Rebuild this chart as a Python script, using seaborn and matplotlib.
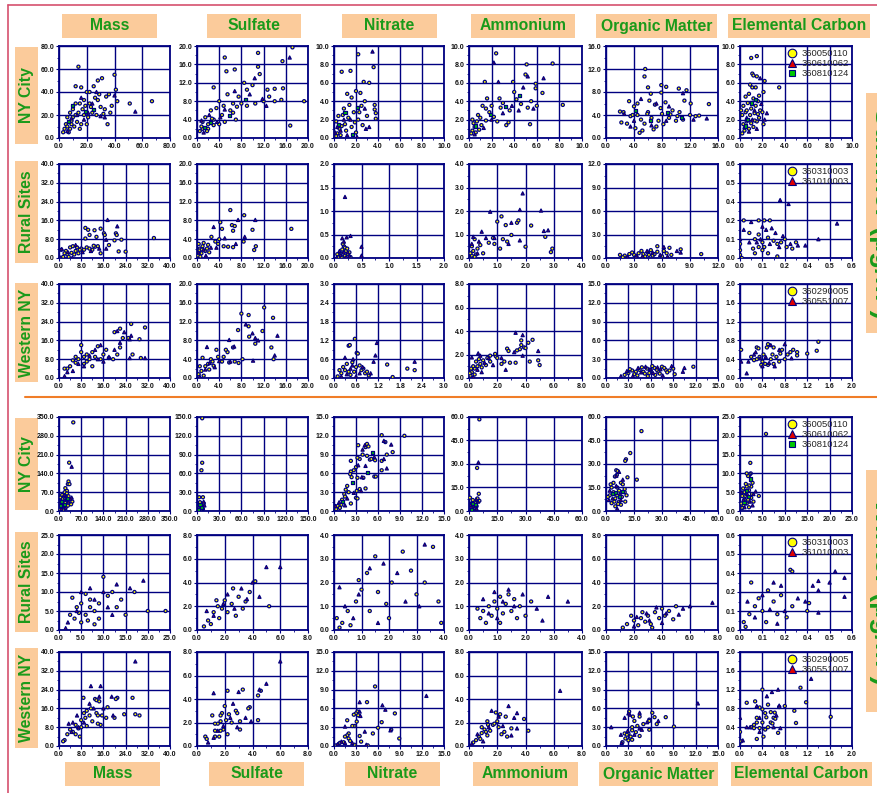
import numpy as np
import pandas as pd
import seaborn as sns
import matplotlib
matplotlib.use("Agg")
import matplotlib.pyplot as plt
from matplotlib.patches import Rectangle
from matplotlib.lines import Line2D
from matplotlib.ticker import FormatStrFormatter, AutoMinorLocator

# ---- labels ----
species = ["Mass", "Sulfate", "Nitrate", "Ammonium", "Organic Matter", "Elemental Carbon"]
regions = ["NY City", "Rural Sites", "Western NY"]
site_ids = {
    "NY City": ["360050110", "360610062", "360810124"],
    "Rural Sites": ["360310003", "361010003"],
    "Western NY": ["360290005", "360551007"],
}

# ---- summer, NY City (o = first site, t = second site, s = third site) ----
sum_ny_mass_o = [(14,62),(67,32),(51,30),(42,32),(40,55),(41,42),(31,52),(28,50),(25,45),(35,12),(36,38),(38,28),
                 (12,45),(16,44),(20,40),(22,40),(18,33),(15,30),(10,25),(8,22),(6,18),(5,12),(4,8),(7,5),(9,15),
                 (12,20),(14,22),(17,25),(19,28),(22,30),(24,22),(27,20),(30,27),(33,25),(34,36),(26,35),(21,18),
                 (11,10),(13,14),(16,12),(18,20),(9,12),(6,10),(3,5),(28,33),(32,21),(37,22),(29,38),(23,27),(12,30),
                 (10,18),(8,8),(20,12),(15,8)]
sum_ny_mass_t = [(55,23),(40,37),(13,20),(9,17),(30,19),(18,16),(24,30),(6,6),(27,40),(16,35),(21,22),(33,18)]
sum_ny_mass_s = [(10,28),(19,23),(25,25),(7,14)]
sum_ny_sulf_o = [(17.2,19.7),(15.4,16.7),(11,18.5),(5,17.5),(5.3,14.5),(6.8,14.9),(11,15.5),(11.3,13.9),(16.8,2.7),
                 (19.3,8),(12.7,10.5),(14,10.7),(15.5,10.8),(14,8),(15.2,8.3),(10,11.5),(8.5,12),(9,10.5),(3,11),(4,8),
                 (5.5,9.5),(6.5,7.5),(7.5,9),(8,7.5),(9,7),(10.5,7.5),(12,8),(13,9),(7,4),(3,4),(2,3),(1,2),(0.5,1.5),
                 (1.5,4.5),(2.5,6),(3.5,6.5),(4.5,5),(5,3.5),(6,6),(2,2),(1,3.5),(0.8,2.5),(3,2.8),(4,3),(6.5,5.5),
                 (1.8,1.5),(2.7,4.2),(4.8,7),(7.2,6.8)]
sum_ny_sulf_t = [(16.7,17.5),(10.4,13),(12.5,7),(11.8,8.5),(6.8,10.2),(5,6.2),(2.2,5),(1.2,1.2),(3.6,3.5),(9.5,9.5),
                 (4.2,4.5),(0.8,3.8)]
sum_ny_sulf_s = [(2.5,3.3),(5.8,4.8),(8.8,8.3),(1.4,2.2)]
sum_ny_nitr_o = [(0.7,7.2),(1.5,7.3),(2.2,9.1),(3.6,7.7),(2.7,6.1),(3.2,6.0),(2.0,5.1),(2.4,4.9),(1.2,4.8),(1.6,4.4),
                 (2.8,4.0),(3.7,3.6),(3.7,3.1),(3.8,2.7),(3.8,2.1),(2.5,3.5),(3.0,2.4),(2.2,2.0),(1.8,2.8),(1.3,2.2),
                 (1.0,1.5),(0.8,2.5),(0.5,1.0),(0.3,0.5),(0.2,1.8),(0.6,0.3),(1.1,0.8),(1.6,1.2),(2.0,0.6),(0.4,2.4),
                 (0.9,3.2),(1.4,3.6),(2.3,2.8),(0.2,0.2),(0.7,1.3),(1.9,1.7),(2.6,1.4)]
sum_ny_nitr_t = [(3.5,9.4),(3.2,1.2),(2.9,1.0),(0.3,1.2),(0.6,0.8),(1.2,0.3),(2.1,0.1),(1.5,2.0),(0.9,2.0),(2.8,3.2),
                 (0.1,0.6)]
sum_ny_nitr_s = [(1.0,2.8),(0.4,1.5),(2.1,3.3),(1.7,0.4)]
sum_ny_ammo_o = [(2.4,9.2),(5.1,8.0),(7.4,8.1),(5.0,6.9),(1.4,6.1),(3.9,6.1),(5.9,5.9),(5.9,5.4),(6.5,4.9),(8.3,3.6),
                 (5.4,1.5),(3.3,1.4),(3.5,1.7),(2.5,1.8),(4.0,5.0),(4.2,4.2),(5.5,4.0),(6.0,3.5),(3.0,3.8),(2.8,3.3),
                 (2.0,3.5),(1.5,3.2),(1.2,3.5),(1.8,2.8),(1.0,2.2),(0.7,1.8),(0.5,1.2),(0.3,0.8),(0.2,0.5),(0.8,2.5),
                 (1.5,1.9),(2.2,2.3),(0.4,1.6),(0.6,0.6),(1.1,1.4),(3.6,3.0),(4.6,3.7),(5.2,3.3),(2.7,4.3),(0.3,2.0),
                 (0.9,0.9),(1.6,4.3)]
sum_ny_ammo_t = [(2.2,8.2),(5.2,6.7),(6.6,6.5),(2.6,6.1),(4.8,5.5),(3.0,2.7),(4.4,3.0),(1.3,1.1),(0.5,0.4),(2.0,2.0),
                 (5.7,3.2),(3.8,3.5)]
sum_ny_ammo_s = [(1.9,2.6),(0.6,1.3),(3.2,3.4),(4.5,4.6)]
sum_ny_om_o = [(5.6,12.0),(5.5,10.7),(6.0,8.8),(7.9,9.2),(8.6,8.9),(10.4,8.6),(11.5,8.3),(14.7,5.9),(12.1,6.0),(7.9,7.9),
               (6.4,7.7),(3.3,6.4),(2.0,4.6),(2.5,4.5),(3.5,3.8),(4.0,5.5),(4.5,4.0),(5.0,3.2),(5.5,2.5),(6.0,4.5),
               (6.5,3.5),(7.0,5.8),(7.5,3.0),(8.0,4.2),(8.5,6.2),(9.0,3.5),(9.5,4.8),(10.0,3.0),(10.5,4.5),(11.0,3.2),
               (12.0,4.0),(12.8,3.8),(13.3,3.9),(4.2,1.7),(4.8,0.9),(5.2,1.3),(6.8,1.5),(7.2,2.0),(3.0,2.5),(2.2,2.7),
               (9.2,4.1),(8.2,2.4),(6.2,6.5),(11.2,6.5),(4.5,6.0),(7.8,5.2),(3.8,4.0),(5.9,4.2),(10.2,3.8)]
sum_ny_om_t = [(14.4,3.4),(5.0,6.8),(7.2,6.0),(9.0,5.5),(11.0,7.8),(3.5,2.0),(6.5,2.2),(8.6,3.0),(12.5,3.2),(4.0,3.0),
               (2.6,4.2)]
sum_ny_om_s = [(6.3,3.0),(8.8,4.5),(4.2,4.8),(10.8,3.5)]
sum_ny_ec_o = [(1.0,8.7),(1.5,8.9),(1.1,7.0),(1.2,6.8),(1.5,6.7),(2.2,6.2),(3.5,5.5),(2.1,5.0),(1.1,5.5),(1.4,5.5),
               (2.1,1.5),(0.5,4.5),(0.8,4.8),(1.2,4.3),(1.6,4.0),(0.3,3.5),(0.7,3.8),(1.0,3.2),(1.4,3.5),(1.8,3.0),
               (0.2,2.5),(0.5,2.8),(0.9,2.5),(1.3,2.7),(1.7,2.2),(0.3,1.5),(0.6,1.8),(1.0,1.6),(1.5,1.8),(0.4,0.8),
               (0.8,1.0),(1.2,1.2),(0.2,0.5),(2.0,2.8),(1.6,2.6),(0.9,5.8),(1.7,4.6),(0.6,3.0),(1.3,1.9),(0.1,3.0)]
sum_ny_ec_t = [(1.8,6.5),(2.4,2.7),(1.9,3.7),(0.6,2.2),(1.1,2.0),(1.5,1.0),(0.4,1.2),(2.2,2.0),(0.8,0.7),(1.3,3.0)]
sum_ny_ec_s = [(0.7,2.0),(1.4,4.2),(1.0,3.8),(0.5,1.3)]

# ---- summer, Rural Sites ----
sum_ru_mass_o = [(9.5,12.8),(10.5,12.0),(12.8,11.8),(15,12.5),(20.5,10.5),(20.8,9.8),(16.2,10.5),(16.5,9.8),(13.5,9.0),
                 (11,9.8),(9.5,8.3),(22.5,7.8),(20,7.5),(18,5.5),(15,2.0),(21.5,2.8),(24,2.7),(34.2,8.5),(0.8,3.5),
                 (1.5,0.5),(2.5,3.0),(3.0,1.5),(4.0,4.5),(4.5,2.2),(5.0,5.0),(6.0,3.0),(6.5,4.5),(7.0,2.0),(8.0,4.0),
                 (9.0,3.5),(10.0,4.5),(11.0,4.0),(12.0,3.5),(13.0,4.8),(14.0,5.0),(3.5,0.5),(5.5,1.5),(7.5,3.5),
                 (12.5,5.2),(2.0,2.0)]
sum_ru_mass_t = [(17.5,16.2),(21,13.5),(17,7.8),(17,4.0),(1.0,3.8),(3.2,2.5),(6.0,5.5),(8.5,2.5),(11.5,3.0),(4.8,0.2),
                 (14.5,4.0),(0.5,0.2)]
sum_ru_sulf_o = [(6,10.2),(8.5,9.1),(4.2,7.6),(6.3,7.0),(6.8,6.8),(6.5,5.8),(4.5,6.2),(10,6.0),(17,6.2),(8.4,3.5),
                 (10.3,1.7),(10.6,2.5),(6.5,2.3),(5.6,2.4),(2.6,4.5),(3.3,3.5),(4.0,4.0),(0.3,3.0),(0.5,2.0),(0.8,1.0),
                 (1.0,2.5),(1.5,1.5),(2.0,2.8),(0.2,0.5),(0.6,0.3),(1.2,3.2),(2.2,1.2),(0.4,1.6),(1.8,2.0),(3.8,3.0),
                 (4.8,2.5),(0.9,1.8)]
sum_ru_sulf_t = [(7.4,8.1),(10.5,8.1),(3.0,6.6),(8.6,4.5),(5.0,4.2),(3.5,2.2),(2.5,2.2),(1.2,1.8),(0.3,1.2),(7.0,3.0),
                 (1.6,0.5)]
sum_ru_nitr_o = [(0.18,0.25),(0.2,0.22),(0.15,0.18),(0.22,0.15),(0.12,0.1),(0.25,0.08),(0.1,0.05),(0.08,0.02),(0.2,0.05),
                 (0.28,0.12),(0.16,0.3),(0.06,0.08),(0.3,0.02),(0.14,0.02),(0.24,0.2)]
sum_ru_nitr_t = [(0.2,1.3),(0.15,0.42),(0.23,0.44),(0.3,0.47),(0.5,0.24),(0.5,0.05),(0.18,0.35),(0.1,0.15),(0.25,0.12),
                 (0.12,0.06),(0.22,0.02),(0.05,0.01),(0.28,0.05),(0.17,0.12)]
sum_ru_ammo_o = [(1.0,1.55),(1.15,1.77),(1.3,1.4),(1.7,1.5),(1.75,1.6),(2.2,1.38),(2.7,0.9),(2.0,0.48),(1.5,0.98),
                 (2.95,0.4),(2.9,0.25),(1.2,0.8),(1.35,0.7),(0.9,0.6),(0.7,0.65),(0.1,0.5),(0.15,0.3),(0.2,0.8),
                 (0.1,0.1),(0.3,0.4),(0.25,0.15),(0.05,0.2),(0.4,0.55),(1.1,0.4),(0.85,0.85),(0.5,0.2),(0.2,0.05)]
sum_ru_ammo_t = [(1.9,2.75),(0.75,1.97),(1.8,2.05),(2.55,2.02),(1.5,1.5),(2.65,1.15),(2.8,1.18),(0.45,1.12),(1.8,0.75),
                 (0.6,0.85),(0.15,0.9),(0.35,0.7),(0.9,0.85),(0.3,0.2),(1.4,0.6),(0.1,0.6)]
sum_ru_om_o = [(1.5,0.4),(2.0,0.3),(2.5,0.5),(3.0,0.4),(3.5,0.6),(4.0,0.5),(4.5,0.7),(5.0,0.3),(5.5,0.8),(5.5,1.5),
               (6.8,1.3),(8.0,1.1),(10.2,0.5),(6.5,0.6),(6.0,0.2),(4.2,0.2),(3.2,0.1),(2.8,0.7),(3.8,0.9),(4.8,1.0),
               (5.2,0.5),(6.2,0.9),(7.0,0.4),(1.8,0.1),(4.6,0.4)]
sum_ru_om_t = [(6.2,1.4),(7.6,0.9),(8.0,0.7),(3.3,0.3),(4.4,0.9),(5.8,0.4),(2.3,0.2),(6.6,0.2),(5.0,0.7),(3.9,0.2)]
sum_ru_ec_o = [(0.02,0.24),(0.1,0.24),(0.13,0.24),(0.16,0.24),(0.05,0.16),(0.08,0.12),(0.1,0.15),(0.12,0.1),(0.15,0.13),
               (0.18,0.11),(0.2,0.09),(0.22,0.1),(0.25,0.07),(0.28,0.06),(0.3,0.1),(0.1,0.07),(0.12,0.05),(0.15,0.03),
               (0.2,0.01),(0.0,0.09),(0.0,0.05),(0.0,0.02),(0.01,0.0),(0.08,0.03),(0.07,0.06),(0.24,0.12),(0.13,0.07)]
sum_ru_ec_t = [(0.215,0.37),(0.26,0.345),(0.52,0.22),(0.42,0.12),(0.06,0.23),(0.02,0.18),(0.12,0.2),(0.14,0.18),
               (0.17,0.19),(0.19,0.16),(0.23,0.14),(0.27,0.09),(0.31,0.08),(0.35,0.08),(0.11,0.12),(0.16,0.09),
               (0.21,0.07),(0.0,0.12),(0.05,0.1),(0.09,0.1)]

# ---- summer, Western NY ----
sum_we_mass_o = [(31,21.5),(26,23),(22,21),(20,19.5),(29,16.5),(25,17),(29.5,8.5),(26.5,10),(23,17),(22,13),(21,10),
                 (19.5,8),(17,12),(14,13.5),(16,10),(12,11),(10,10),(8,11),(9,9),(7,8),(6,6.5),(5,7.5),(4,5),(3,4),
                 (2,4),(11,8),(13,9),(8,14),(10,7),(15,8),(6,9),(12,5),(9,6),(18,8.5)]
sum_we_mass_t = [(21,20),(23.5,19.5),(26,18),(25.5,16.5),(31,8.5),(25.5,8.5),(22,15),(20,12),(18,9),(15,14),(13,12),
                 (11,9.5),(9,5),(7,6),(5,3),(3,2.5),(2,0.8),(16,7),(14,8)]
sum_we_sulf_o = [(12.1,15.0),(8,13.7),(9.3,13.4),(13.7,12.8),(7.4,10.2),(11.8,10),(9.3,11),(9.4,8.8),(10.5,7.3),
                 (13.4,6.5),(13.8,4.0),(8.2,4.0),(7.5,3.2),(6.5,6.5),(5.5,5.5),(5.2,6),(4.8,4.5),(3.5,6),(3.8,4.5),
                 (2.5,4),(2,3),(1,4.3),(1.5,2.5),(0.8,1.5),(0.5,2.5),(0.3,0.8),(1.2,0.5),(2.2,1.8),(3,2.6),(4.5,3.5),
                 (6.8,3.5),(5.8,3.3),(2.8,3.5)]
sum_we_sulf_t = [(8.8,11.4),(10,9.5),(14.5,9),(10.5,8.5),(11,8),(14,4.8),(10.1,3.7),(5.8,8.1),(6.7,6.7),(1.8,6.6),
                 (4,3.6),(1.5,1.8),(0.5,0.3),(6,3.5),(3.2,2.3),(2.3,3.2)]
sum_we_nitr_o = [(0.57,1.25),(0.4,1.03),(0.43,1.05),(0.62,0.8),(0.65,0.78),(1.45,0.43),(2.0,0.3),(2.2,0.25),(1.6,0.03),
                 (0.95,0.08),(0.75,0.25),(0.5,0.5),(0.35,0.45),(0.6,0.35),(0.7,0.4),(0.8,0.3),(0.85,0.15),(0.3,0.25),
                 (0.2,0.15),(0.1,0.05),(0.45,0.1),(0.25,0.35),(0.55,0.2),(0.9,0.2),(0.15,0.25),(0.4,0.2)]
sum_we_nitr_t = [(1.17,1.12),(1.13,0.72),(1.08,0.52),(2.2,0.52),(0.52,0.6),(0.3,0.65),(0.45,0.3),(0.7,0.15),(0.2,0.05),
                 (0.6,0.05),(0.35,0.12),(0.78,0.35),(1.0,0.15),(0.5,0.4)]
sum_we_ammo_o = [(4.5,3.25),(3.7,3.2),(4.2,3.0),(3.7,2.8),(3.9,2.6),(4.0,2.55),(3.6,2.45),(3.4,2.35),(2.7,2.5),(2.8,2.3),
                 (4.3,1.4),(4.9,1.5),(5.0,1.1),(2.9,1.3),(3.3,1.3),(2.3,1.2),(2.5,1.4),(1.9,1.85),(1.85,2.05),(2.0,1.7),
                 (1.5,1.9),(1.3,1.7),(1.5,1.4),(1.0,1.5),(0.8,1.2),(0.6,1.0),(0.4,0.8),(0.2,0.5),(0.1,0.2),(0.3,1.0),
                 (0.5,1.4),(0.7,1.6),(0.9,0.9),(1.2,1.1),(0.15,0.8),(0.05,0.4),(0.4,0.3)]
sum_we_ammo_t = [(3.3,3.85),(3.8,3.65),(4.9,2.3),(3.2,2.2),(3.8,1.9),(0.65,2.1),(0.2,1.75),(2.3,1.7),(1.1,1.3),(0.6,0.7),
                 (1.7,1.1),(2.6,0.7),(0.3,0.1),(0.9,0.5),(1.4,1.7),(0.8,1.9)]
sum_we_om_o = [(3.0,0.8),(3.5,1.2),(4.0,1.0),(4.5,1.3),(5.0,1.0),(5.5,1.5),(6.0,1.2),(6.5,1.6),(7.0,1.0),(7.5,1.8),
               (8.0,1.3),(9.0,1.5),(11.7,1.8),(9.2,0.6),(8.5,1.2),(2.5,0.5),(3.8,0.6),(4.2,0.4),(5.2,0.7),(5.8,0.8),
               (6.2,1.9),(6.8,1.3),(7.2,0.7),(8.2,0.9),(4.8,1.7),(3.2,1.4),(5.6,0.3),(6.6,0.5),(7.8,1.6)]
sum_we_om_t = [(2.0,0.3),(10.3,1.0),(10.5,1.6),(4.3,1.6),(5.3,1.8),(6.3,0.8),(7.3,1.4),(8.8,1.9),(3.6,0.3),(4.7,0.9),
               (5.9,1.4),(7.6,0.4),(2.8,1.1),(6.9,1.7)]
sum_we_ec_o = [(1.4,0.77),(1.37,0.58),(1.2,0.52),(1.02,0.55),(1.02,0.48),(0.95,0.6),(0.9,0.55),(0.75,0.6),(0.6,0.65),
               (0.5,0.72),(0.48,0.65),(0.3,0.65),(0.33,0.63),(0.02,0.6),(0.35,0.45),(0.3,0.4),(0.25,0.38),(0.4,0.35),
               (0.45,0.3),(0.5,0.28),(0.55,0.4),(0.6,0.3),(0.65,0.45),(0.7,0.35),(0.8,0.4),(0.85,0.5),(0.42,0.5),
               (0.38,0.28),(0.58,0.5),(0.2,0.45),(0.72,0.52)]
sum_we_ec_t = [(0.8,0.72),(0.55,0.7),(0.02,0.35),(0.12,0.1),(0.28,0.55),(0.36,0.42),(0.46,0.45),(0.52,0.32),(0.62,0.25),
               (0.7,0.6),(0.4,0.25),(0.25,0.5),(0.92,0.42),(0.15,0.35)]

# ---- winter, NY City ----
win_ny_mass_o = [(45,330),(32,180),(30,110),(28,100),(33,100),(20,85),(25,75),(18,70),(25,65),(30,55),(42,35),(38,25),
                 (5,50),(8,40),(10,30),(12,45),(15,20),(6,15),(4,10),(3,5),(8,25),(12,10),(15,35),(18,50),(20,30),
                 (22,15),(25,40),(28,20),(10,60),(14,5),(2,25),(6,32)]
win_ny_mass_t = [(40,165),(40,50),(35,45),(22,55),(16,60),(11,18),(7,8),(20,12),(30,35),(3,18)]
win_ny_mass_s = [(9,35),(17,25),(26,48),(5,22)]
win_ny_sulf_o = [(7,148),(7,77),(6,65),(8,22),(3,22),(5,12),(7,10),(8,8),(4,5),(2,3),(6,3),(3,8),(9,12),(5,1),(1,1),
                 (8,3),(4,14),(6,7),(2,6)]
win_ny_sulf_t = [(9,15),(5,9),(3,2),(7,5),(1,4),(10,9)]
win_ny_sulf_s = [(4,10),(6,6),(2,2)]
win_ny_nitr_o = [(9.6,12),(6.5,12.1),(7,11),(8,9.4),(7.2,9),(6.5,8),(6.5,6.5),(5.5,5.5),(5.7,5.5),(4.3,10.2),(4.5,10.7),
                 (4.7,10.3),(3.3,10.5),(3.9,9),(4.5,8.8),(4.9,8.2),(5.1,8.3),(5.6,8.1),(3.5,8.3),(3.2,8.5),(2.3,8),
                 (3.0,7.0),(2.7,6.5),(2.3,6.3),(2.2,5.9),(2.4,5.4),(3.2,5.3),(4.0,5.3),(4.3,3.6),(3.5,3.5),(3.1,3.2),
                 (3.0,2.1),(3.2,2.0),(1.8,4.0),(1.6,3.4),(2.0,3.0),(1.4,2.7),(1.5,2.3),(2.3,1.2),(1.0,1.0),(0.5,0.8),
                 (0.3,0.3),(0.8,0.5),(1.1,1.8)]
win_ny_nitr_t = [(6.8,11.2),(7.8,10.6),(6.8,8.3),(7.2,6.8),(4.2,10.5),(3.9,9.8),(4.3,7.2),(3.7,3.2),(3.3,7.3),(5.5,8.6),
                 (3.8,5.4),(2.7,2.9),(1.8,2.0),(0.7,1.4),(1.5,0.9),(0.2,0.8)]
win_ny_nitr_s = [(2.5,4.5),(4.6,6.2),(1.2,1.5),(5.2,9.3)]
win_ny_ammo_o = [(5.5,58.5),(4.3,27.5),(5.2,11),(4.5,8),(3,6),(2,4),(1,2),(0.5,8.5),(2.5,1),(4,3),(3.5,5),(1.5,5),
                 (5.5,6.5),(2,7),(1,0.5),(3,2)]
win_ny_ammo_t = [(5,31),(4.8,6),(3.8,7.5),(2.5,3),(1.5,2.5),(0.8,4),(4,1.5)]
win_ny_ammo_s = [(2,5),(3.3,4),(1.2,1.2)]
win_ny_om_o = [(19,51),(13,37),(10.7,33),(10.3,32),(16.5,20),(11.5,21.5),(5.5,26),(6.2,25.5),(5.8,23),(4.8,22),(8,18),
               (9,17),(10,14),(10,12),(11,10),(10.3,6),(3,15),(2,10),(4,12),(5,8),(6,10),(7,6),(8,4),(3,5),(5,3),(6,15),
               (7,13),(4,18),(1,9),(2.5,17),(8.5,9),(6.5,4.5),(4.5,6)]
win_ny_om_t = [(7,25),(5.5,22.5),(9,20),(7.5,11),(3.5,8),(2,13),(5.5,16),(8,7),(6,1.5),(1.5,7)]
win_ny_om_s = [(5,12),(7,9),(3.5,11),(9,12.5)]
win_ny_ec_o = [(5.8,20.5),(2.3,12.8),(2.4,10),(2.2,9.8),(2,9.5),(1.8,9.3),(1.5,10),(2.8,7.5),(2.5,6.5),(4.2,4),(2,6.8),
               (1.5,6.5),(2,5.5),(1,5),(0.5,4),(1,3),(1.5,2),(0.8,1.5),(2.5,3.5),(3,2.5),(0.3,2),(1.2,4),(2,1),(0.5,0.8),
               (1.8,3),(2.7,4.5),(1.3,7.2),(0.7,6)]
win_ny_ec_t = [(3.5,5.2),(3,4.5),(1.6,4.5),(0.8,3),(2.2,2.5),(1,1),(2.8,1.5),(0.4,5)]
win_ny_ec_s = [(1.4,5.5),(1.9,3.8),(0.9,2.2),(2.4,8.5)]

# ---- winter, Rural Sites ----
win_ru_mass_o = [(3,8.5),(4,6),(5,7),(6,4),(7,8),(8,5),(9,7),(10,14),(11,9),(12,10),(13,6),(14,8),(3.5,3),(5,2),(6.5,2.5),
                 (8,1.5),(2.5,4),(4.5,4.5),(7,6),(9,3),(17,10),(20,5),(24,5),(15,4),(6,9.5)]
win_ru_mass_t = [(16,11),(19,13),(10,10),(7,11),(4,5),(2,2),(12,4),(8,8),(5,10),(1.5,0.5),(11,6),(13,12)]
win_ru_sulf_o = [(0.8,0.8),(1.2,1.5),(1.5,2.0),(1.8,1.8),(2.0,2.5),(2.2,1.5),(2.5,2.2),(3.0,2.8),(3.5,2.4),(3.8,3.2),
                 (4.2,4.1),(1.0,0.5),(0.5,0.3),(2.8,1.2),(1.6,1.0),(1.4,2.5),(3.3,1.8),(5.2,2.0),(2.6,3.5)]
win_ru_sulf_t = [(6,5.3),(5,5.3),(4,4.0),(3.2,3.5),(2.2,3.0),(1.9,2.2),(1.2,1.2),(2.7,1.8),(0.7,1.6),(4.5,2.8),(3.6,2.6)]
win_ru_nitr_o = [(3.6,3.5),(2.5,3.3),(1.5,3.1),(1.2,2.4),(2.1,2.0),(1.0,1.7),(1.6,1.6),(0.3,0.3),(0.5,0.8),(0.8,1.2),
                 (0.2,0.1),(2.8,2.5),(3.3,2.0),(3.8,1.2),(2.0,0.5),(1.3,0.8),(0.6,0.2),(3.0,1.5),(0.9,2.1),(1.9,1.1),
                 (3.9,0.3),(0.1,0.5)]
win_ru_nitr_t = [(3.3,3.6),(1.8,2.8),(1.3,2.6),(0.9,1.5),(0.4,1.0),(2.6,1.2),(2.3,2.4),(0.7,0.5),(1.6,0.3),(3.1,1.0),
                 (0.2,1.8)]
win_ru_ammo_o = [(0.5,0.8),(0.7,1.0),(0.8,0.6),(0.9,1.2),(1.0,0.9),(1.1,1.4),(1.2,0.7),(1.3,1.1),(1.4,1.5),(1.5,0.8),
                 (1.6,1.3),(0.6,0.3),(0.4,0.5),(1.8,1.0),(2.0,0.6),(2.2,1.2),(1.7,0.5),(0.3,0.9),(1.1,0.3)]
win_ru_ammo_t = [(1.4,1.7),(2.8,1.4),(3.5,1.2),(0.9,1.6),(1.2,1.2),(1.6,1.0),(0.7,0.7),(2.4,0.9),(0.5,1.3),(1.9,1.5),
                 (1.0,0.5),(2.6,0.4)]
win_ru_om_o = [(1.5,0.5),(2.0,0.8),(2.3,0.4),(2.5,1.0),(2.8,0.7),(3.0,1.2),(3.2,0.5),(3.5,1.5),(3.8,1.0),(4.0,1.8),
               (4.2,1.2),(4.5,1.6),(1.8,1.2),(2.6,1.5),(3.3,0.2),(4.8,0.9),(1.2,0.2),(5.0,2.0)]
win_ru_om_t = [(7.6,2.3),(6.0,2.0),(5.5,1.8),(4.3,1.4),(3.6,1.9),(2.9,1.4),(2.2,1.1),(3.1,0.8),(4.0,0.6),(2.0,0.3),(5.2,1.3)]
win_ru_ec_o = [(0.27,0.38),(0.28,0.37),(0.37,0.17),(0.28,0.15),(0.36,0.12),(0.02,0.05),(0.05,0.1),(0.08,0.15),(0.1,0.2),
               (0.12,0.12),(0.15,0.25),(0.18,0.18),(0.2,0.1),(0.22,0.22),(0.03,0.02),(0.14,0.05),(0.25,0.08),(0.06,0.3)]
win_ru_ec_t = [(0.51,0.37),(0.56,0.33),(0.42,0.31),(0.48,0.3),(0.39,0.28),(0.42,0.25),(0.31,0.2),(0.35,0.18),(0.56,0.21),
               (0.42,0.11),(0.22,0.28),(0.18,0.3),(0.12,0.22),(0.08,0.08),(0.16,0.13),(0.24,0.12),(0.04,0.18),(0.2,0.04)]

# ---- winter, Western NY ----
win_we_mass_o = [(8.8,20.5),(13,20),(13.5,19.5),(14.5,19),(21,20.5),(20.5,20),(26.5,20.5),(17.5,16.5),(11.5,16),(9,14),
                 (10,15),(11,13),(13.5,14),(14,13),(15.5,13),(23.5,13.5),(27.5,13.5),(29,13),(20,12),(15,9),(14,9.5),
                 (10,8.5),(8,8),(7,7.5),(6,9),(4,7),(3,5),(2,2.5),(1.5,2),(8,11),(5,6),(6,5),(7.5,4),(9.5,12),(12,10.5),
                 (17,12)]
win_we_mass_t = [(27.5,36),(11.5,25.5),(15,25.5),(14.5,21),(19,21),(16,16),(12.5,16),(19.5,13),(5,10),(6.5,13),(3.5,9.5),
                 (7,8),(4.5,6),(9,10),(11,18)]
win_we_sulf_o = [(4.6,4.7),(4.4,4.3),(3.3,4.8),(2.2,4.7),(3.8,3.3),(3.7,3.2),(2.8,3.0),(2.9,2.8),(4.4,2.2),(2.3,2.7),
                 (2.0,3.4),(2.5,2.0),(3.1,2.1),(1.8,2.8),(1.7,2.6),(1.1,2.6),(1.7,2.1),(1.5,1.9),(2.1,2.2),(1.3,1.9),
                 (1.9,1.4),(1.7,1.3),(3.1,1.4),(1.3,0.8),(1.6,0.8),(0.6,0.8),(0.7,0.6),(2.2,1.0),(1.3,1.3)]
win_we_sulf_t = [(6,7.2),(5,5.3),(4.5,4.8),(3.0,4.6),(1.2,4.5),(2.6,3.6),(3.5,2.4),(3.9,2.1),(2.9,1.6),(1.2,0.7),(0.8,0.3),
                 (1.9,1.7),(1.5,1.3),(2.4,2.4)]
win_we_nitr_o = [(5.6,9.5),(4.5,7),(3.2,5.5),(3.0,5.2),(2.7,5.0),(3.3,4.9),(8.3,5.2),(1.8,4.1),(6.5,3.8),(3.1,3.9),
                 (2.8,3.2),(2.5,3.2),(6,2.9),(7.8,2.6),(8.9,1.2),(5.3,2),(3.5,1.6),(3.7,0.7),(4.6,0.1),(2.0,2.0),
                 (1.8,1.7),(1.5,1.5),(2,1.2),(1.3,0.6),(0.8,0.5),(0.3,0.1),(2.2,0.8),(2.8,0.2)]
win_we_nitr_t = [(12.6,8),(3.5,7),(6.6,6.5),(7,5.8),(3.5,5.5),(3.6,4.8),(7.7,2.5),(4.2,2.3),(1.5,3.1),(1.0,0.7),(0.5,0.3),
                 (1.5,0.5),(2.5,0.5),(4.4,0.2)]
win_we_ammo_o = [(1.9,2.85),(2.2,2.7),(2.6,2.5),(3.9,2.3),(2.0,2.1),(1.3,2.1),(1.35,1.8),(1.7,1.8),(1.8,1.9),(2.1,1.6),
                 (2.5,1.2),(3.0,1.5),(4.2,1.3),(2.3,1.0),(2.7,0.8),(0.9,1.6),(1.1,1.4),(1.2,1.2),(0.9,1.1),(0.7,0.8),
                 (0.8,0.6),(0.5,0.5),(0.3,0.3),(1.3,0.9),(1.5,1.3)]
win_we_ammo_t = [(6.45,4.7),(2.8,3.4),(1.6,3.0),(3.4,2.8),(3.2,2.4),(2.4,1.7),(3.4,1.5),(3.0,0.9),(0.6,1.0),(0.2,0.2),
                 (1.0,0.4),(2.1,2.5),(1.4,1.6)]
win_we_om_o = [(3.1,5.5),(6.2,5.3),(3.6,4.7),(4.5,4.7),(6.5,4.6),(8,4.6),(5.8,4.2),(5.8,4.0),(3.8,4),(6.8,3.5),(9.1,3.1),
               (5,3.5),(4.2,3.2),(5.8,2.6),(3.5,3.0),(4.0,2.2),(4.5,1.6),(3.0,2.0),(2.5,2.0),(2.8,1.8),(3.3,1.5),(3.5,1.0),
               (2.2,0.6),(3,0.9),(3.5,2.5),(2.6,1.2)]
win_we_om_t = [(12.3,6.8),(3.0,5.2),(3.2,5.0),(4.5,5.3),(2.5,4.5),(5.5,3.8),(7.0,4.0),(0.7,3.0),(4.5,2.8),(4.8,2.6),
               (2.0,1.8),(2.1,0.5),(3.8,1.8),(2.9,2.4)]
win_we_ec_o = [(1.08,1.24),(0.4,1.2),(1.18,0.93),(0.12,0.92),(0.27,0.95),(0.5,0.88),(0.8,0.85),(0.35,0.82),(0.4,0.78),
               (0.7,0.83),(0.97,0.75),(0.55,0.72),(0.62,0.71),(0.45,0.7),(0.47,0.61),(0.6,0.6),(0.63,0.58),(1.62,0.62),
               (1.0,0.49),(0.3,0.6),(0.3,0.5),(0.25,0.45),(0.4,0.5),(0.55,0.5),(0.58,0.48),(0.35,0.38),(0.45,0.35),
               (0.5,0.4),(0.2,0.4),(0.25,0.38),(0.0,0.3),(0.02,0.1),(0.3,0.15),(0.42,0.2),(0.68,0.28)]
win_we_ec_t = [(1.27,1.43),(0.68,1.2),(0.57,1.15),(0.48,1.06),(0.3,0.85),(0.7,0.86),(0.65,0.65),(0.35,0.6),(0.12,0.4),
               (0.0,0.6),(0.72,0.38),(0.35,0.3),(0.6,0.4),(0.18,0.4),(0.05,0.12)]

# axis maxima and number of grid divisions, per season / region / species
sum_axis_max = [[80, 20, 10, 10, 16, 10], [40, 20, 2, 4, 12, 0.6], [40, 20, 3, 8, 15, 2]]
sum_axis_div = [[4, 5, 5, 5, 4, 5], [5, 5, 4, 4, 4, 5], [5, 5, 5, 4, 5, 5]]
win_axis_max = [[350, 150, 15, 60, 60, 25], [25, 8, 4, 4, 8, 0.6], [40, 8, 15, 8, 15, 2]]
win_axis_div = [[5, 5, 5, 4, 4, 5], [5, 4, 4, 4, 4, 5], [5, 4, 5, 4, 5, 5]]

summer_panels = [
    [(sum_ny_mass_o, sum_ny_mass_t, sum_ny_mass_s), (sum_ny_sulf_o, sum_ny_sulf_t, sum_ny_sulf_s),
     (sum_ny_nitr_o, sum_ny_nitr_t, sum_ny_nitr_s), (sum_ny_ammo_o, sum_ny_ammo_t, sum_ny_ammo_s),
     (sum_ny_om_o, sum_ny_om_t, sum_ny_om_s), (sum_ny_ec_o, sum_ny_ec_t, sum_ny_ec_s)],
    [(sum_ru_mass_o, sum_ru_mass_t, []), (sum_ru_sulf_o, sum_ru_sulf_t, []), (sum_ru_nitr_o, sum_ru_nitr_t, []),
     (sum_ru_ammo_o, sum_ru_ammo_t, []), (sum_ru_om_o, sum_ru_om_t, []), (sum_ru_ec_o, sum_ru_ec_t, [])],
    [(sum_we_mass_o, sum_we_mass_t, []), (sum_we_sulf_o, sum_we_sulf_t, []), (sum_we_nitr_o, sum_we_nitr_t, []),
     (sum_we_ammo_o, sum_we_ammo_t, []), (sum_we_om_o, sum_we_om_t, []), (sum_we_ec_o, sum_we_ec_t, [])],
]
winter_panels = [
    [(win_ny_mass_o, win_ny_mass_t, win_ny_mass_s), (win_ny_sulf_o, win_ny_sulf_t, win_ny_sulf_s),
     (win_ny_nitr_o, win_ny_nitr_t, win_ny_nitr_s), (win_ny_ammo_o, win_ny_ammo_t, win_ny_ammo_s),
     (win_ny_om_o, win_ny_om_t, win_ny_om_s), (win_ny_ec_o, win_ny_ec_t, win_ny_ec_s)],
    [(win_ru_mass_o, win_ru_mass_t, []), (win_ru_sulf_o, win_ru_sulf_t, []), (win_ru_nitr_o, win_ru_nitr_t, []),
     (win_ru_ammo_o, win_ru_ammo_t, []), (win_ru_om_o, win_ru_om_t, []), (win_ru_ec_o, win_ru_ec_t, [])],
    [(win_we_mass_o, win_we_mass_t, []), (win_we_sulf_o, win_we_sulf_t, []), (win_we_nitr_o, win_we_nitr_t, []),
     (win_we_ammo_o, win_we_ammo_t, []), (win_we_om_o, win_we_om_t, []), (win_we_ec_o, win_we_ec_t, [])],
]

# ---- style ----
sns.set_style("white")
plt.rcParams["font.family"] = ["Liberation Sans", "DejaVu Sans"]

NAVY = "#000080"
PEACH = "#FBCB9B"
GREEN = "#1A9A1A"
site_colors = ["#FFFF00", "#E00000", "#00C800"]
site_markers = ["o", "^", "s"]

W, H = 877, 793
fig = plt.figure(figsize=(W / 100, H / 100), dpi=100)

col_px = [(59, 170), (197, 308), (334, 444), (469, 582), (606, 718), (740, 852)]
sum_rows_px = [(46, 138), (164, 258), (284, 378)]
win_rows_px = [(417, 511), (535, 630), (652, 746)]


def label_box(x0, y0, x1, y1, text, rot=0, size=11.3, tx=None):
    fig.add_artist(Rectangle((x0 / W, 1 - y1 / H), (x1 - x0) / W, (y1 - y0) / H, transform=fig.transFigure,
                             facecolor=PEACH, edgecolor="none", zorder=0))
    cx = (x0 + x1) / 2 if tx is None else tx
    fig.text(cx / W, 1 - (y0 + y1) / 2 / H, text, rotation=rot, ha="center", va="center",
             fontsize=size, fontweight="bold", color=GREEN)


def draw_panel(ax, region, pts, vmax, ndiv, show_legend):
    ids = site_ids[region]
    rows = []
    for k, group in enumerate(pts):
        rows += [(x, y, ids[k]) for x, y in group]
    df = pd.DataFrame(rows, columns=["x", "y", "site"])
    sns.scatterplot(data=df, x="x", y="y", hue="site", style="site",
                    palette=dict(zip(ids, site_colors)), markers=dict(zip(ids, site_markers)),
                    s=5, edgecolor=NAVY, linewidth=0.9, legend=False, ax=ax, zorder=3)
    ticks = np.linspace(0, vmax, ndiv + 1)
    ax.set_xlim(0, vmax)
    ax.set_ylim(0, vmax)
    ax.set_xticks(ticks)
    ax.set_yticks(ticks)
    ax.xaxis.set_major_formatter(FormatStrFormatter("%.1f"))
    ax.yaxis.set_major_formatter(FormatStrFormatter("%.1f"))
    ax.xaxis.set_minor_locator(AutoMinorLocator(2))
    ax.yaxis.set_minor_locator(AutoMinorLocator(2))
    ax.grid(True, which="major", color=NAVY, lw=1.0)
    ax.set_axisbelow(True)
    for sp in ax.spines.values():
        sp.set_color(NAVY)
        sp.set_linewidth(1.3)
    ax.tick_params(which="major", bottom=True, left=True, length=2.5, width=0.8, color=NAVY,
                   direction="out", labelsize=5, pad=1, labelcolor="#111111")
    ax.tick_params(which="minor", bottom=True, left=True, length=1.5, width=0.6, color=NAVY, direction="out")
    for lbl in ax.get_xticklabels() + ax.get_yticklabels():
        lbl.set_fontweight("bold")
    ax.set_xlabel("")
    ax.set_ylabel("")
    if show_legend:
        sizes = [6.2, 6.0, 4.6]
        handles = [Line2D([], [], marker=site_markers[k], linestyle="none", markerfacecolor=site_colors[k],
                          markeredgecolor=NAVY, markeredgewidth=0.8, markersize=sizes[k]) for k in range(len(ids))]
        ax.legend(handles, ids, loc="upper left", bbox_to_anchor=(0.40, 1.0), frameon=False, fontsize=6.8,
                  handlelength=1.0, handletextpad=0.5, labelspacing=0.12, borderpad=0.1, borderaxespad=0.2)


for rows_px, panels, amax, adiv in [(sum_rows_px, summer_panels, sum_axis_max, sum_axis_div),
                                    (win_rows_px, winter_panels, win_axis_max, win_axis_div)]:
    for r, (top, bot) in enumerate(rows_px):
        for c, (left, right) in enumerate(col_px):
            ax = fig.add_axes([left / W, 1 - bot / H, (right - left) / W, (bot - top) / H])
            draw_panel(ax, regions[r], panels[r][c], amax[r][c], adiv[r][c], c == 5)

# column headers, top and bottom
top_boxes = [(62, 157), (207, 301), (342, 437), (471, 575), (596, 717), (728, 870)]
bot_boxes = [(65, 160), (209, 304), (345, 440), (473, 578), (599, 718), (731, 872)]
for name, (x0, x1) in zip(species, top_boxes):
    label_box(x0, 14, x1, 38, name)
for name, (x0, x1) in zip(species, bot_boxes):
    label_box(x0, 762, x1, 786, name)

# row labels
sum_label_px = [(47, 144), (161, 263), (283, 382)]
win_label_px = [(418, 510), (532, 632), (648, 748)]
for name, (y0, y1) in zip(regions, sum_label_px):
    label_box(15, y0, 38, y1, name, rot=90)
for name, (y0, y1) in zip(regions, win_label_px):
    label_box(15, y0, 38, y1, name, rot=90)

# season labels on the right edge, partly running off the page as in the original
label_box(866, 93, 905, 333, "Summer (µg/m³)", rot=-90, size=20, tx=882)
label_box(866, 470, 905, 712, "Winter (µg/m³)", rot=-90, size=20, tx=882)

# page frame and divider
fig.add_artist(Line2D([8 / W, 8 / W], [0, 1 - 5 / H], color="#D6506E", lw=1.2))
fig.add_artist(Line2D([8 / W, 1], [1 - 5 / H, 1 - 5 / H], color="#D6506E", lw=1.2))
fig.add_artist(Line2D([25 / W, 1], [1 - 397 / H, 1 - 397 / H], color="#F07D28", lw=1.5))

fig.savefig("out.png", dpi=100)
